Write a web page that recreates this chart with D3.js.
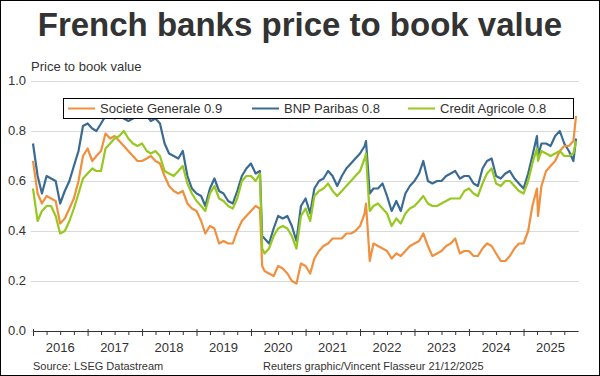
<!DOCTYPE html>
<html>
<head>
<meta charset="utf-8">
<script src="https://cdn.jsdelivr.net/npm/d3@7"></script>
<style>
body { margin: 0; background: #fff; }
text { font-family: "Liberation Sans", Arial, sans-serif; }
</style>
</head>
<body>
<script>

//
//**   Dane   **/
//

// price to book, first day of each month, Jan 2016 .. Dec 2025
var sg = [
  0.68,0.55,0.51,0.54,0.53,0.52,0.43,0.45,0.49,0.53,0.60,0.70,
  0.73,0.68,0.70,0.72,0.79,0.77,0.78,0.76,0.74,0.72,0.70,0.68,
  0.68,0.69,0.70,0.68,0.67,0.62,0.58,0.56,0.55,0.56,0.51,0.49,
  0.48,0.44,0.39,0.42,0.41,0.35,0.36,0.35,0.35,0.40,0.44,0.46,
  0.48,0.50,0.49,0.24,0.23,0.22,0.26,0.25,0.23,0.20,0.19,0.27,
  0.26,0.23,0.29,0.32,0.34,0.35,0.37,0.37,0.37,0.39,0.39,0.40,
  0.42,0.47,0.34,0.35,0.34,0.33,0.32,0.29,0.31,0.30,0.32,0.34,
  0.35,0.36,0.39,0.34,0.30,0.31,0.32,0.34,0.35,0.37,0.31,0.32,
  0.32,0.30,0.30,0.33,0.35,0.34,0.31,0.28,0.28,0.30,0.33,0.35,
  0.35,0.40,0.50,0.57,0.58,0.64,0.66,0.68,0.72,0.74,0.74,0.76
];

var bnp = [
  0.75,0.62,0.55,0.62,0.61,0.60,0.51,0.56,0.60,0.66,0.72,0.82,
  0.83,0.81,0.80,0.83,0.86,0.86,0.85,0.86,0.85,0.84,0.85,0.86,
  0.87,0.86,0.84,0.85,0.83,0.75,0.71,0.70,0.69,0.72,0.62,0.57,
  0.55,0.54,0.50,0.57,0.61,0.56,0.55,0.52,0.51,0.56,0.62,0.65,
  0.67,0.63,0.64,0.37,0.35,0.41,0.46,0.45,0.46,0.42,0.36,0.50,
  0.53,0.47,0.57,0.60,0.61,0.64,0.62,0.58,0.62,0.65,0.67,0.69,
  0.71,0.74,0.60,0.57,0.57,0.59,0.54,0.48,0.52,0.48,0.55,0.58,
  0.60,0.63,0.68,0.60,0.59,0.60,0.60,0.62,0.63,0.64,0.61,0.62,
  0.62,0.59,0.58,0.65,0.68,0.69,0.62,0.61,0.63,0.64,0.61,0.59,
  0.57,0.63,0.70,0.78,0.75,0.75,0.74,0.78,0.80,0.75,0.72,0.68
];

var ca = [
  0.57,0.44,0.48,0.50,0.50,0.46,0.39,0.40,0.44,0.49,0.55,0.61,
  0.63,0.65,0.64,0.64,0.73,0.75,0.77,0.78,0.80,0.77,0.75,0.74,
  0.75,0.72,0.71,0.72,0.70,0.64,0.63,0.62,0.64,0.66,0.59,0.55,
  0.52,0.50,0.48,0.55,0.58,0.53,0.52,0.50,0.49,0.53,0.60,0.62,
  0.62,0.60,0.63,0.31,0.33,0.38,0.41,0.42,0.41,0.38,0.33,0.46,
  0.49,0.44,0.54,0.56,0.57,0.59,0.56,0.54,0.56,0.58,0.60,0.62,
  0.64,0.69,0.52,0.50,0.51,0.49,0.47,0.42,0.45,0.43,0.47,0.49,
  0.50,0.52,0.54,0.51,0.50,0.50,0.51,0.52,0.53,0.53,0.53,0.56,
  0.57,0.55,0.54,0.59,0.63,0.65,0.59,0.58,0.60,0.60,0.58,0.56,
  0.55,0.60,0.67,0.73,0.72,0.71,0.70,0.71,0.72,0.70,0.70,0.71
];

// days inside a month where prices moved hard, plus the last reading
var extraDates = ["2020-03-16", "2022-02-10", "2022-03-07", "2025-04-08", "2025-12-19"];
var sgExtra  = [0.26, 0.51, 0.28, 0.46, 0.86];
var bnpExtra = [0.38, 0.76, 0.55, 0.70, 0.77];
var caExtra  = [0.33, 0.71, 0.48, 0.68, 0.76];

var names  = ["Societe Generale 0.9", "BNP Paribas 0.8", "Credit Agricole 0.8"];
var colors = ["#f0903e", "#3a6b93", "#97c81f"];
var yTicks = [0, 0.2, 0.4, 0.6, 0.8, 1.0];
var years  = [2016, 2017, 2018, 2019, 2020, 2021, 2022, 2023, 2024, 2025];

//
//**   Osie   **/
//

var width = 600, height = 376;

var svg = d3.select("body").append("svg")
    .attr("width", width)
    .attr("height", height);

svg.append("rect")
    .attr("x", 0.5).attr("y", 0.5)
    .attr("width", width - 1).attr("height", height - 1)
    .style("fill", "#fff")
    .style("stroke", "#000");

var parse = d3.timeParse("%Y-%m-%d");
var months = d3.timeMonth.range(new Date(2016, 0, 1), new Date(2026, 0, 1));

var x = d3.scaleTime()
    .domain([new Date(2016, 0, 1), new Date(2026, 0, 1)])
    .range([33, 578]);

var y = d3.scaleLinear()
    .domain([0, 1])
    .range([331, 81]);

var yAxis = d3.axisLeft(y)
    .tickValues(yTicks)
    .tickSize(-(579 - 31))
    .tickPadding(5)
    .tickFormat(d3.format(".1f"));

var gY = svg.append("g")
    .attr("transform", "translate(31,0)")
    .call(yAxis);

gY.select(".domain").remove();
gY.selectAll("line").style("stroke", "#d9d9d9");
gY.selectAll("text")
    .attr("dy", "0.25em")
    .style("fill", "#333")
    .style("font-size", "13px");

var quarters = d3.timeMonth.every(3).range(new Date(2016, 0, 1), new Date(2026, 0, 1));

var xAxis = d3.axisBottom(x)
    .tickValues(quarters)
    .tickSize(4)
    .tickSizeOuter(0)
    .tickFormat("");

var gX = svg.append("g")
    .attr("transform", "translate(0,331)")
    .call(xAxis);

gX.select(".domain").style("stroke", "#333");
gX.selectAll(".tick line")
    .style("stroke", "#333")
    .filter(function(d) { return d.getMonth() == 0; })
    .attr("y1", -2)
    .attr("y2", 5);

svg.selectAll(".year")
    .data(years)
  .enter().append("text")
    .attr("class", "year")
    .attr("x", function(d) { return x(new Date(d, 6, 1)); })
    .attr("y", 352)
    .style("text-anchor", "middle")
    .style("fill", "#333")
    .style("font-size", "13px")
    .text(function(d) { return d; });

svg.append("text")
    .attr("x", 300)
    .attr("y", 36)
    .style("text-anchor", "middle")
    .style("font-weight", "bold")
    .style("font-size", "33px")
    .style("fill", "#333")
    .text("French banks price to book value");

svg.append("text")
    .attr("x", 31)
    .attr("y", 71)
    .style("font-size", "13px")
    .style("fill", "#333")
    .text("Price to book value");

svg.append("text")
    .attr("x", 33)
    .attr("y", 370)
    .style("font-size", "11px")
    .style("fill", "#333")
    .text("Source: LSEG Datastream");

svg.append("text")
    .attr("x", 263)
    .attr("y", 370)
    .style("font-size", "11px")
    .style("fill", "#333")
    .text("Reuters graphic/Vincent Flasseur 21/12/2025");

//
//**   Wykres   **/
//

function build(vals, extra) {
  var pts = months.map(function(d, i) { return {date: d, v: vals[i]}; });
  extraDates.forEach(function(s, i) { pts.push({date: parse(s), v: extra[i]}); });
  return pts.sort(function(a, b) { return a.date - b.date; });
}

var series = [build(sg, sgExtra), build(bnp, bnpExtra), build(ca, caExtra)];

var line = d3.line()
    .x(function(d) { return x(d.date); })
    .y(function(d) { return y(d.v); });

// BNP first, then SG, Credit Agricole on top
[1, 0, 2].forEach(function(k) {
  svg.append("path")
      .datum(series[k])
      .attr("d", line)
      .style("fill", "none")
      .style("stroke", colors[k])
      .style("stroke-width", 2.2)
      .style("stroke-linejoin", "round");
});

//
//**   Legenda   **/
//

svg.append("rect")
    .attr("x", 63.5).attr("y", 98.5)
    .attr("width", 510).attr("height", 20)
    .style("fill", "#fff")
    .style("stroke", "#000");

var legX = [68, 252, 408];

var leg = svg.selectAll(".leg")
    .data(names)
  .enter().append("g")
    .attr("class", "leg")
    .attr("transform", function(d, i) { return "translate(" + legX[i] + ",0)"; });

leg.append("line")
    .attr("x1", 0).attr("x2", 27)
    .attr("y1", 108.5).attr("y2", 108.5)
    .style("stroke", function(d, i) { return colors[i]; })
    .style("stroke-width", 2);

leg.append("text")
    .attr("x", 32)
    .attr("y", 113)
    .style("font-size", "13px")
    .style("fill", "#333")
    .text(function(d) { return d; });

</script>
</body>
</html>
